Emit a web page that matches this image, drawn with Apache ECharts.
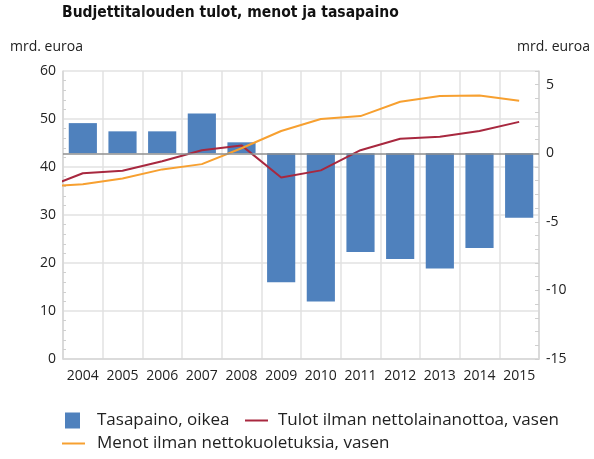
<!DOCTYPE html>
<html>
<head>
<meta charset="utf-8">
<script src="https://cdn.jsdelivr.net/npm/echarts@6/dist/echarts.min.js"></script>
<style>
html, body { margin: 0; padding: 0; background: #fff; }
#chart { width: 594px; height: 459px; }
</style>
</head>
<body>
<div id="chart"></div>
<script>
// vuodet (pylväät)
const years = ['2004', '2005', '2006', '2007', '2008', '2009', '2010', '2011', '2012', '2013', '2014', '2015'];
// tasapaino, mrd. euroa (oikea akseli)
const balance = [2.2, 1.6, 1.6, 2.9, 0.8, -9.4, -10.8, -7.2, -7.7, -8.4, -6.9, -4.7];
// viivat alkavat kuvan reunasta, siksi mukana 2003
const lineYears = [2003, 2004, 2005, 2006, 2007, 2008, 2009, 2010, 2011, 2012, 2013, 2014, 2015];
const revenue = [35.5, 38.7, 39.2, 41.2, 43.5, 44.5, 37.8, 39.3, 43.5, 45.9, 46.3, 47.5, 49.4];
const expenditure = [35.9, 36.4, 37.6, 39.5, 40.6, 43.9, 47.5, 50.0, 50.6, 53.6, 54.8, 54.9, 53.8];
const leftTicks = [0, 10, 20, 30, 40, 50, 60];
const rightTicks = [-15, -10, -5, 0, 5];

const font = 'Open Sans';
const gridColor = '#e2e2e2';

const chart = echarts.init(document.getElementById('chart'));

const option = {
    animation: false,
    textStyle: { fontFamily: font },
    title: [
        {
            text: 'Budjettitalouden tulot, menot ja tasapaino',
            left: 62, top: 5, padding: 0,
            textStyle: { fontFamily: '"DejaVu Sans Condensed", "DejaVu Sans"', fontWeight: 'bold', fontSize: 15.5, color: '#111' }
        },
        {
            text: 'mrd. euroa', left: 10, top: 40, padding: 0,
            textStyle: { fontFamily: font, fontWeight: 'normal', fontSize: 14, color: '#222' }
        },
        {
            text: 'mrd. euroa', right: 4, top: 40, padding: 0,
            textStyle: { fontFamily: font, fontWeight: 'normal', fontSize: 14, color: '#222' }
        }
    ],
    legend: [
        {
            data: ['Tasapaino, oikea'], left: 65, top: 412, padding: 0,
            icon: 'rect', itemWidth: 15, itemHeight: 16,
            textStyle: { fontSize: 17, color: '#222', padding: [0, 0, 0, 12] }
        },
        {
            data: ['Tulot ilman nettolainanottoa, vasen'], left: 245, top: 412, padding: 0,
            icon: 'rect', itemWidth: 23, itemHeight: 2,
            textStyle: { fontSize: 17, color: '#222', padding: [0, 0, 0, 5] }
        },
        {
            data: ['Menot ilman nettokuoletuksia, vasen'], left: 62, top: 435, padding: 0,
            icon: 'rect', itemWidth: 23, itemHeight: 2,
            textStyle: { fontSize: 17, color: '#222', padding: [0, 0, 0, 7] }
        }
    ],
    grid: { left: 63, right: 55, top: 71, bottom: 100 },
    xAxis: [
        {
            type: 'category',
            data: years,
            axisLine: { lineStyle: { color: '#d6d6d6', width: 1.5 } },
            axisTick: { show: false },
            axisLabel: { color: '#222', fontSize: 14, margin: 10, interval: 0 },
            splitLine: { show: true, lineStyle: { color: gridColor, width: 1.5 } }
        },
        { type: 'value', min: 2003.5, max: 2015.5, show: false }
    ],
    yAxis: [
        {
            type: 'value', position: 'left',
            min: leftTicks[0], max: leftTicks[leftTicks.length - 1], interval: 10,
            axisLine: { show: true, lineStyle: { color: '#d6d6d6', width: 1.5 } },
            axisTick: { show: false, inside: true },
            minorTick: { show: true, splitNumber: 5, length: 3, lineStyle: { color: '#cfcfcf' } },
            axisLabel: { color: '#222', fontSize: 14, margin: 7 },
            splitLine: { show: true, lineStyle: { color: gridColor, width: 1.5 } }
        },
        {
            type: 'value', position: 'right',
            min: -15, max: 6, interval: 1,
            axisLine: { show: true, lineStyle: { color: '#d6d6d6', width: 1.5 } },
            axisTick: { show: true, inside: true, length: 4, lineStyle: { color: '#cfcfcf' } },
            axisLabel: {
                color: '#222', fontSize: 14, margin: 7,
                formatter: v => rightTicks.indexOf(v) >= 0 ? String(v) : ''
            },
            splitLine: { show: false }
        }
    ],
    series: [
        {
            name: 'Tasapaino, oikea',
            type: 'bar',
            xAxisIndex: 0, yAxisIndex: 1,
            data: balance,
            barCategoryGap: '29%',
            itemStyle: { color: '#4f81bd' },
            markLine: {
                silent: true, symbol: 'none',
                label: { show: false },
                lineStyle: { color: '#8f8f8f', width: 1.5, type: 'solid' },
                data: [{ yAxis: 0 }]
            }
        },
        {
            name: 'Tulot ilman nettolainanottoa, vasen',
            type: 'line',
            xAxisIndex: 1, yAxisIndex: 0,
            data: lineYears.map((y, i) => [y, revenue[i]]),
            symbol: 'none',
            itemStyle: { color: '#a8283f' },
            lineStyle: { color: '#a8283f', width: 2 }
        },
        {
            name: 'Menot ilman nettokuoletuksia, vasen',
            type: 'line',
            xAxisIndex: 1, yAxisIndex: 0,
            data: lineYears.map((y, i) => [y, expenditure[i]]),
            symbol: 'none',
            itemStyle: { color: '#f7a030' },
            lineStyle: { color: '#f7a030', width: 2 }
        }
    ]
};

chart.setOption(option);
window.addEventListener('resize', () => {
    chart.resize();
});
</script>
</body>
</html>
